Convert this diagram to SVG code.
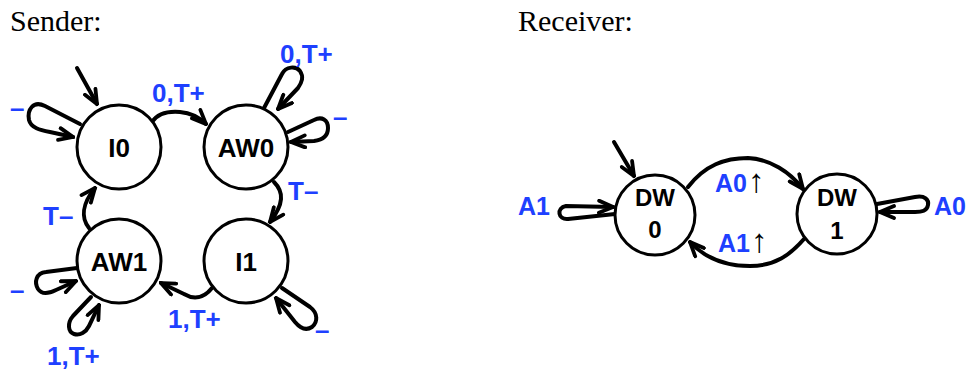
<svg xmlns="http://www.w3.org/2000/svg" width="970" height="371" viewBox="0 0 970 371">
<style>
.node circle{fill:#fff;stroke:#000;stroke-width:3}
.node text{font-family:"Liberation Sans",Arial,sans-serif;font-weight:bold;fill:#000;text-anchor:middle}
.s text{font-size:26px}
.r text{font-size:24px}
.edge{fill:none;stroke:#000;stroke-width:4;stroke-linecap:round;stroke-linejoin:round;marker-end:url(#arr)}
.lbl{font-family:"Liberation Sans",Arial,sans-serif;font-weight:bold;fill:#1e40ff;font-size:26px}
.rl{font-size:25px}
.up{font-weight:normal;fill:#000;font-size:33px}
.title{font-family:"Liberation Serif","Times New Roman",serif;font-size:30px;fill:#000}
</style>
<defs>
<marker id="arr" viewBox="0 0 18 16" markerWidth="18" markerHeight="16" refX="16" refY="8" orient="auto" markerUnits="userSpaceOnUse">
<path d="M2,2 L16,8 L2,14" fill="none" stroke="#000" stroke-width="3.8" stroke-linecap="round" stroke-linejoin="miter"/>
</marker>
</defs>
<text class="title" x="10" y="31">Sender:</text>
<text class="title" x="518" y="31">Receiver:</text>
<g id="connectors">
<path class="edge" d="M77,68 L97,104"/>
<path class="edge" d="M80,124 L45,106 C33,100 27,110 29,120 C31,128 40,130 50,132 L73,137"/>
<path class="edge" d="M152,122 C158,113 168,111 180,112 C192,113 200,118 206,124"/>
<path class="edge" d="M264,108 L282,74 C286,66 296,66 300,71 C304,77 302,82 298,88 L278,109"/>
<path class="edge" d="M288,132 L314,120 C322,116 328,120 328,128 C328,136 322,140 314,141 L291,142"/>
<path class="edge" d="M274,182 C284,192 284,204 270,222"/>
<path class="edge" d="M212,288 C204,298 194,300 184,294 L161,283"/>
<path class="edge" d="M282,288 L310,307 C318,313 318,322 312,327 C306,331 300,328 295,322 L276,298"/>
<path class="edge" d="M77,268 L46,272 C36,273 34,282 38,289 C42,295 50,293 56,290 L76,281"/>
<path class="edge" d="M91,297 L73,316 C67,323 68,332 74,334 C80,336 86,332 89,326 L99,305"/>
<path class="edge" d="M89,228 C81,218 82,204 95,188"/>
<path class="edge" d="M614,142 L634,176"/>
<path class="edge" d="M615,214 L568,219 C558,220 556,208 566,206 L613,207"/>
<path class="edge" d="M688,187 C705,165 725,158 748,158 C770,159 790,172 803,189"/>
<path class="edge" d="M804,239 C790,255 775,266 750,266 C725,266 705,258 690,242"/>
<path class="edge" d="M877,204 L915,197 C925,195 929,200 928,205 C927,211 922,212 915,212 L880,212"/>
</g>
<g id="labels">
<text class="lbl" x="10" y="117">–</text>
<text class="lbl" x="152" y="102">0,T+</text>
<text class="lbl" x="280" y="63">0,T+</text>
<text class="lbl" x="333" y="126">–</text>
<text class="lbl" x="288" y="200">T–</text>
<text class="lbl" x="168" y="328">1,T+</text>
<text class="lbl" x="315" y="339">–</text>
<text class="lbl" x="10" y="299">–</text>
<text class="lbl" x="47" y="365">1,T+</text>
<text class="lbl" x="43" y="225">T–</text>
<text class="lbl rl" x="518" y="215">A1</text>
<text class="lbl rl" x="715" y="192">A0<tspan class="up" dx="1">↑</tspan></text>
<text class="lbl rl" x="718" y="252">A1<tspan class="up" dx="1">↑</tspan></text>
<text class="lbl rl" x="934" y="215">A0</text>
</g>
<g id="I0" class="node s"><circle cx="119" cy="147" r="42"/><text x="119" y="157">I0</text></g>
<g id="AW0" class="node s"><circle cx="246" cy="147" r="42"/><text x="246" y="157">AW0</text></g>
<g id="AW1" class="node s"><circle cx="119" cy="261" r="42"/><text x="119" y="271">AW1</text></g>
<g id="I1" class="node s"><circle cx="246" cy="261" r="42"/><text x="246" y="271">I1</text></g>
<g id="DW0" class="node r"><circle cx="655" cy="215" r="40"/><text x="655" y="206">DW</text><text x="655" y="238">0</text></g>
<g id="DW1" class="node r"><circle cx="837" cy="214" r="40"/><text x="837" y="206">DW</text><text x="837" y="239">1</text></g>
</svg>
